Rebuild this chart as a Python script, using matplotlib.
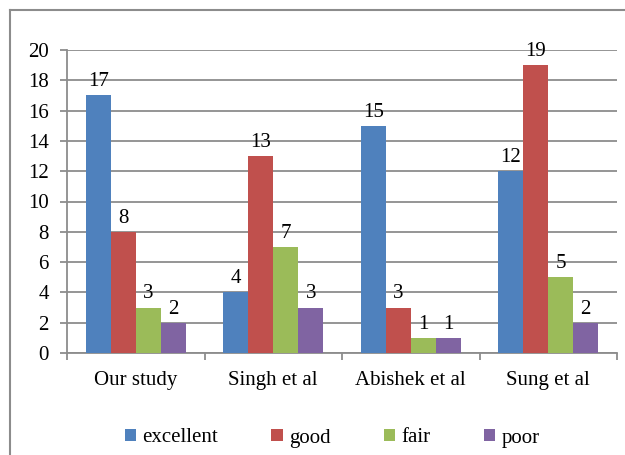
import matplotlib.pyplot as plt
import numpy as np
from matplotlib.lines import Line2D

studies = ["Our study", "Singh et al", "Abishek et al", "Sung et al"]
grades = ["excellent", "good", "fair", "poor"]
excellent = [17, 4, 15, 12]
good = [8, 13, 3, 19]
fair = [3, 7, 1, 5]
poor = [2, 3, 1, 2]
colors = ["#4F81BD", "#C0504D", "#9BBB59", "#8064A2"]

FONT = "Liberation Serif"
FS = 15
plt.rcParams["font.family"] = [FONT]
plt.rcParams["font.size"] = FS

W, H = 625, 455
fig = plt.figure(figsize=(W / 100, H / 100), dpi=100)
ax = fig.add_axes([67 / W, 1 - 353 / H, (617 - 67) / W, (353 - 50) / H])

series = [excellent, good, fair, poor]
x = np.arange(len(studies))
bw = 0.1818  # bar width so that gap = 150% of bar
for i, (vals, name, c) in enumerate(zip(series, grades, colors)):
    pos = x - 1.5 * bw + i * bw
    bars = ax.bar(pos, vals, bw, color=c, label=name, zorder=3)
    for b, v in zip(bars, vals):
        ax.annotate(str(v), (b.get_x() + b.get_width() / 2, v),
                    xytext=(0, 3), textcoords="offset points",
                    ha="center", va="bottom", family=FONT, fontsize=FS)

ax.set_xlim(-0.5, len(studies) - 0.5)
ax.set_ylim(0, 20)
ax.set_yticks(range(0, 21, 2))
ax.yaxis.grid(True, color="#8c8c8c", linewidth=1.3, zorder=0)
ax.set_axisbelow(True)

ax.set_xticks(x)
ax.set_xticklabels(studies, family=FONT, fontsize=FS)
ax.set_yticklabels([str(v) for v in range(0, 21, 2)], family=FONT, fontsize=FS)
ax.set_xticks(np.arange(-0.5, len(studies)), minor=True)
ax.tick_params(axis="x", which="major", length=0, pad=13)
ax.tick_params(axis="x", which="minor", length=5, color="#8c8c8c", width=1.3)
ax.tick_params(axis="y", length=5, color="#8c8c8c", width=1.3, pad=8)

for s in ["top", "right"]:
    ax.spines[s].set_visible(False)
for s in ["left", "bottom"]:
    ax.spines[s].set_color("#8c8c8c")
    ax.spines[s].set_linewidth(1.3)

ax.legend(loc="center", bbox_to_anchor=(332 / W, 1 - 438 / H),
          bbox_transform=fig.transFigure, ncol=4, frameon=False,
          handlelength=0.55, handleheight=0.55, handletextpad=0.3,
          columnspacing=2.55, prop={"family": FONT, "size": FS})

# chart border (top and left visible)
bx, by = 10 / W, 1 - 10 / H
fig.add_artist(Line2D([bx, 1], [by, by], color="#8c8c8c", lw=1.5, transform=fig.transFigure))
fig.add_artist(Line2D([bx, bx], [by, 0], color="#8c8c8c", lw=1.5, transform=fig.transFigure))

fig.savefig("out.png", dpi=100)
